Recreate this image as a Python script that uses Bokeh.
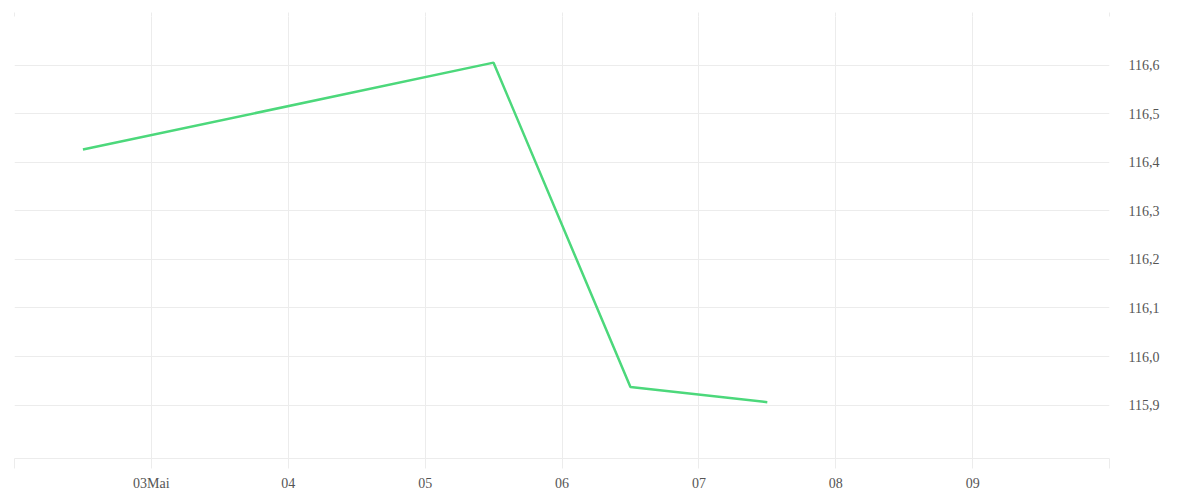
from datetime import datetime
from bokeh.plotting import figure
from bokeh.models import (DatetimeAxis, FixedTicker, ColumnDataSource, Range1d)
from bokeh.embed import file_html
from bokeh.resources import INLINE

# data
dates = [datetime(2024, 5, 2, 12), datetime(2024, 5, 5, 12),
         datetime(2024, 5, 6, 12), datetime(2024, 5, 7, 12)]
values = [116.426, 116.605, 115.937, 115.906]

x_tick_dates = [datetime(2024, 5, d) for d in range(2, 11)]
x_tick_labels = ["", "03Mai", "04", "05", "06", "07", "08", "09", ""]
y_ticks = [115.9, 116.0, 116.1, 116.2, 116.3, 116.4, 116.5, 116.6, 116.7]
y_tick_labels = ["115,9", "116,0", "116,1", "116,2", "116,3", "116,4",
                 "116,5", "116,6", ""]

def ms(d):
    return d.timestamp() * 1000.0

grid_col = "#ececec"
font = "Liberation Serif"

p = figure(x_axis_type="datetime", y_axis_location="right",
           frame_width=1095, frame_height=442,
           min_border_left=14, min_border_top=16, min_border_bottom=26,
           min_border_right=60,
           output_backend="svg", toolbar_location=None,
           x_range=Range1d(ms(x_tick_dates[0]), ms(x_tick_dates[-1])),
           y_range=Range1d(115.79, 116.7))
p.outline_line_color = None

src = ColumnDataSource(dict(x=dates, y=values))
p.line("x", "y", source=src, line_color="#4cd87b", line_width=2.5)

xt = [ms(d) for d in x_tick_dates]
xa = p.xaxis[0]
xa.ticker = FixedTicker(ticks=xt)
xa.major_label_overrides = {t: l for t, l in zip(xt, x_tick_labels)}
xa.axis_line_color = grid_col
xa.major_tick_line_color = grid_col
xa.major_tick_out = 10
xa.major_tick_in = 0
xa.minor_tick_line_color = None
xa.major_label_standoff = 7
xa.major_label_text_font = font
xa.major_label_text_font_size = "14px"
xa.major_label_text_color = "#555555"

top = DatetimeAxis(ticker=FixedTicker(ticks=xt),
                   major_label_overrides={t: "" for t in xt},
                   axis_line_color=None, major_tick_line_color=grid_col,
                   major_tick_out=4, major_tick_in=0,
                   minor_tick_line_color=None,
                   major_label_text_font_size="0px", major_label_standoff=0)
p.add_layout(top, "above")

ya = p.yaxis[0]
ya.ticker = FixedTicker(ticks=y_ticks)
ya.major_label_overrides = {t: l for t, l in zip(y_ticks, y_tick_labels)}
ya.axis_line_color = None
ya.major_tick_line_color = None
ya.minor_tick_line_color = None
ya.major_label_standoff = 13
ya.major_label_text_font = font
ya.major_label_text_font_size = "14px"
ya.major_label_text_color = "#555555"

p.xgrid.ticker = FixedTicker(ticks=xt)
p.ygrid.ticker = FixedTicker(ticks=y_ticks)
p.xgrid.grid_line_color = grid_col
p.ygrid.grid_line_color = grid_col

open("out.html", "w").write(file_html(p, INLINE))
